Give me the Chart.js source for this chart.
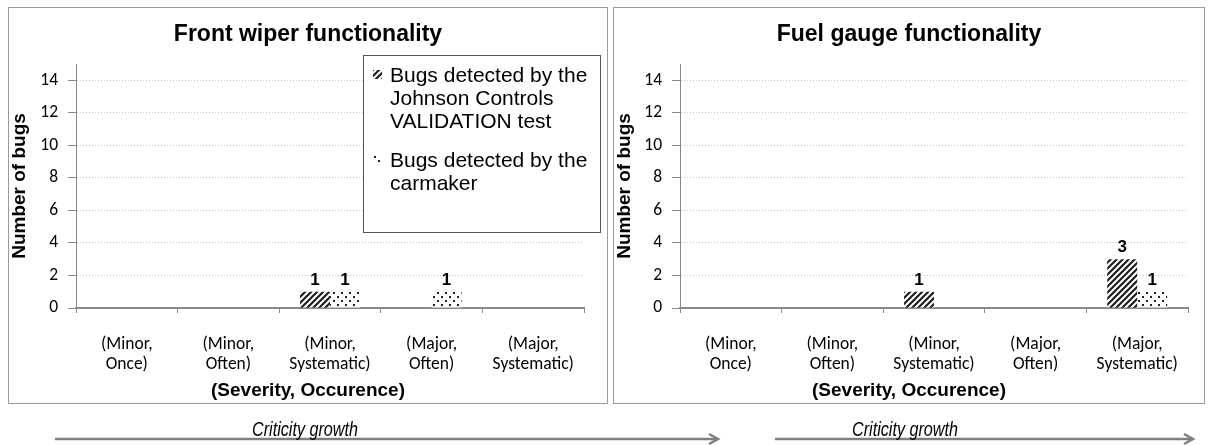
<!DOCTYPE html>
<html><head><meta charset="utf-8">
<script src="https://cdn.jsdelivr.net/npm/chart.js@4.4.0/dist/chart.umd.min.js"></script>
<style>
html,body{margin:0;padding:0;background:#fff;}
body{width:1211px;height:446px;position:relative;overflow:hidden;font-family:"Liberation Sans",Arial,sans-serif;color:#000;}
.panel{position:absolute;top:7px;height:397px;border:1px solid #9a9a9a;box-sizing:border-box;pointer-events:none;}
canvas.chart{position:absolute;top:7px;}
.ctitle{position:absolute;top:20px;height:26px;line-height:26px;text-align:center;font-weight:bold;font-size:23px;}
.xtitle{position:absolute;top:379px;height:22px;line-height:22px;text-align:center;font-weight:bold;font-size:19px;}
.legend{position:absolute;left:363px;top:55px;width:238px;height:178px;border:1px solid #555;background:#fff;box-sizing:border-box;}
.lentry{position:absolute;left:26px;font-size:21px;line-height:23px;white-space:nowrap;}
.lsw{position:absolute;left:9px;width:9px;height:9px;}
.crit{position:absolute;top:416px;height:26px;line-height:26px;font-style:italic;font-size:21px;font-family:"Liberation Sans",Arial,sans-serif;text-align:center;width:200px;color:#000;transform:scaleX(0.77);}
svg{position:absolute;left:0;top:0;}
</style>
</head><body>

<canvas id="c1" class="chart" width="600" height="397" style="left:8px"></canvas>
<canvas id="c2" class="chart" width="592" height="397" style="left:613px"></canvas>
<div class="panel" style="left:8px;width:600px"></div>
<div class="panel" style="left:613px;width:592px"></div>
<div class="ctitle" id="t1" style="left:8px;width:600px"></div>
<div class="ctitle" id="t2" style="left:613px;width:592px"></div>
<div class="xtitle" id="x1" style="left:8px;width:600px"></div>
<div class="xtitle" id="x2" style="left:613px;width:592px"></div>
<div class="legend" id="legend"></div>
<svg width="1211" height="446">
  <g stroke="#7f7f7f" stroke-width="2.5" fill="none">
    <line x1="55" y1="439" x2="718" y2="439"/>
    <polyline points="709,434 718,439 709,444"/>
    <line x1="775" y1="439" x2="1193" y2="439"/>
    <polyline points="1184,434 1193,439 1184,444"/>
  </g>
</svg>
<div class="crit" id="g1" style="left:205px"></div>
<div class="crit" id="g2" style="left:805px"></div>

<script>
// ---- data ----
const categories = [["(Minor,","Once)"],["(Minor,","Often)"],["(Minor,","Systematic)"],["(Major,","Often)"],["(Major,","Systematic)"]];
const seriesLabelLines = [["Bugs detected by the","Johnson Controls","VALIDATION test"],["Bugs detected by the","carmaker"]];
const chartTitles = ["Front wiper functionality","Fuel gauge functionality"];
const xAxisTitle = "(Severity, Occurence)";
const yAxisTitle = "Number of bugs";
const growthLabel = "Criticity growth";
const yTickValues = [0,2,4,6,8,10,12,14];
const yMax = 15;
const wiperValidation = [0,0,1,0,0];
const wiperCarmaker   = [0,0,1,1,0];
const fuelValidation  = [0,0,1,0,3];
const fuelCarmaker    = [0,0,0,0,1];

// ---- patterns ----
function makeHatch(){
  const c=document.createElement('canvas'); c.width=6; c.height=6;
  const g=c.getContext('2d');
  g.fillStyle='#fff'; g.fillRect(0,0,6,6);
  g.strokeStyle='#1e1e1e'; g.lineWidth=2.2; g.lineCap='square';
  g.beginPath();
  g.moveTo(-1,7); g.lineTo(7,-1);
  g.moveTo(-3,3); g.lineTo(3,-3);
  g.moveTo(3,9); g.lineTo(9,3);
  g.stroke();
  return c;
}
function makeDots(){
  const c=document.createElement('canvas'); c.width=8; c.height=8;
  const g=c.getContext('2d');
  g.fillStyle='#fff'; g.fillRect(0,0,8,8);
  g.fillStyle='#222';
  g.fillRect(1,1,2,2); g.fillRect(5,5,2,2);
  return c;
}
const hatchTile=makeHatch(), dotTile=makeDots();

// ---- text ----
document.getElementById('t1').textContent=chartTitles[0];
document.getElementById('t2').textContent=chartTitles[1];
document.getElementById('x1').textContent=xAxisTitle;
document.getElementById('x2').textContent=xAxisTitle;
document.getElementById('g1').textContent=growthLabel;
document.getElementById('g2').textContent=growthLabel;

// legend
(function(){
  const lg=document.getElementById('legend');
  const tiles=[hatchTile,dotTile];
  const tops=[7,92];
  seriesLabelLines.forEach((lines,i)=>{
    const sw=document.createElement('canvas'); sw.width=9; sw.height=9; sw.className='lsw';
    sw.style.top=(tops[i]+7)+'px';
    const g=sw.getContext('2d'); g.fillStyle=g.createPattern(tiles[i],'repeat'); g.fillRect(0,0,9,9);
    lg.appendChild(sw);
    const d=document.createElement('div'); d.className='lentry'; d.style.top=tops[i]+'px';
    lines.forEach((l,k)=>{ if(k) d.appendChild(document.createElement('br')); d.appendChild(document.createTextNode(l)); });
    lg.appendChild(d);
  });
})();

const valueLabels={
  id:'valueLabels',
  afterDatasetsDraw(chart){
    const ctx=chart.ctx; ctx.save();
    ctx.font='bold 17px "Liberation Sans", Arial, sans-serif';
    ctx.fillStyle='#000'; ctx.textAlign='center'; ctx.textBaseline='alphabetic';
    chart.data.datasets.forEach((ds,i)=>{
      chart.getDatasetMeta(i).data.forEach((el,j)=>{
        const v=ds.data[j]; if(!v) return;
        ctx.fillText(String(v), el.x, el.y-7);
      });
    });
    ctx.restore();
  }
};

const tickFont={family:'Carlito, Lato, "Open Sans", sans-serif', size:17.5, lineHeight:'20px'};
const axisGray='#898989';

function build(id, vals1, vals2, yW, rightPad){
  const ctx=document.getElementById(id).getContext('2d');
  const hatch=ctx.createPattern(hatchTile,'repeat');
  const dots=ctx.createPattern(dotTile,'repeat');
  return new Chart(ctx,{
    type:'bar',
    data:{
      labels:categories,
      datasets:[
        {label:seriesLabelLines[0].join(' '), data:vals1, backgroundColor:hatch, borderWidth:0, categoryPercentage:0.59, barPercentage:1},
        {label:seriesLabelLines[1].join(' '), data:vals2, backgroundColor:dots, borderWidth:0, categoryPercentage:0.59, barPercentage:1}
      ]
    },
    options:{
      responsive:false, animation:false, devicePixelRatio:1,
      layout:{padding:{top:57,right:rightPad,left:0,bottom:0}},
      plugins:{legend:{display:false},title:{display:false},tooltip:{enabled:false}},
      scales:{
        x:{
          grid:{display:true,drawOnChartArea:false,drawTicks:true,tickLength:5,tickColor:axisGray,tickWidth:1,offset:true},
          border:{display:true,color:axisGray,width:2},
          ticks:{font:tickFont,color:'#000',padding:22,maxRotation:0,autoSkip:false},
          afterFit(s){ s.height=96; }
        },
        y:{
          min:0,max:yMax,
          grid:{color:'#c4c4c4',lineWidth:1,tickColor:axisGray,tickLength:8,tickWidth:1},
          border:{display:true,color:axisGray,width:1,dash:[1,2]},
          ticks:{font:tickFont,color:'#000',padding:10,stepSize:2,includeBounds:false,
                 callback:(v)=> yTickValues.includes(v)? String(v) : null},
          title:{display:true,text:yAxisTitle,color:'#000',font:{family:'"Liberation Sans", Arial, sans-serif',size:19,weight:'bold'},padding:{top:0,bottom:0}},
          afterFit(s){ s.width=yW; }
        }
      }
    },
    plugins:[valueLabels]
  });
}
build('c1', wiperValidation, wiperCarmaker, 68, 24);
build('c2', fuelValidation, fuelCarmaker, 67, 17);
</script>
</body></html>
